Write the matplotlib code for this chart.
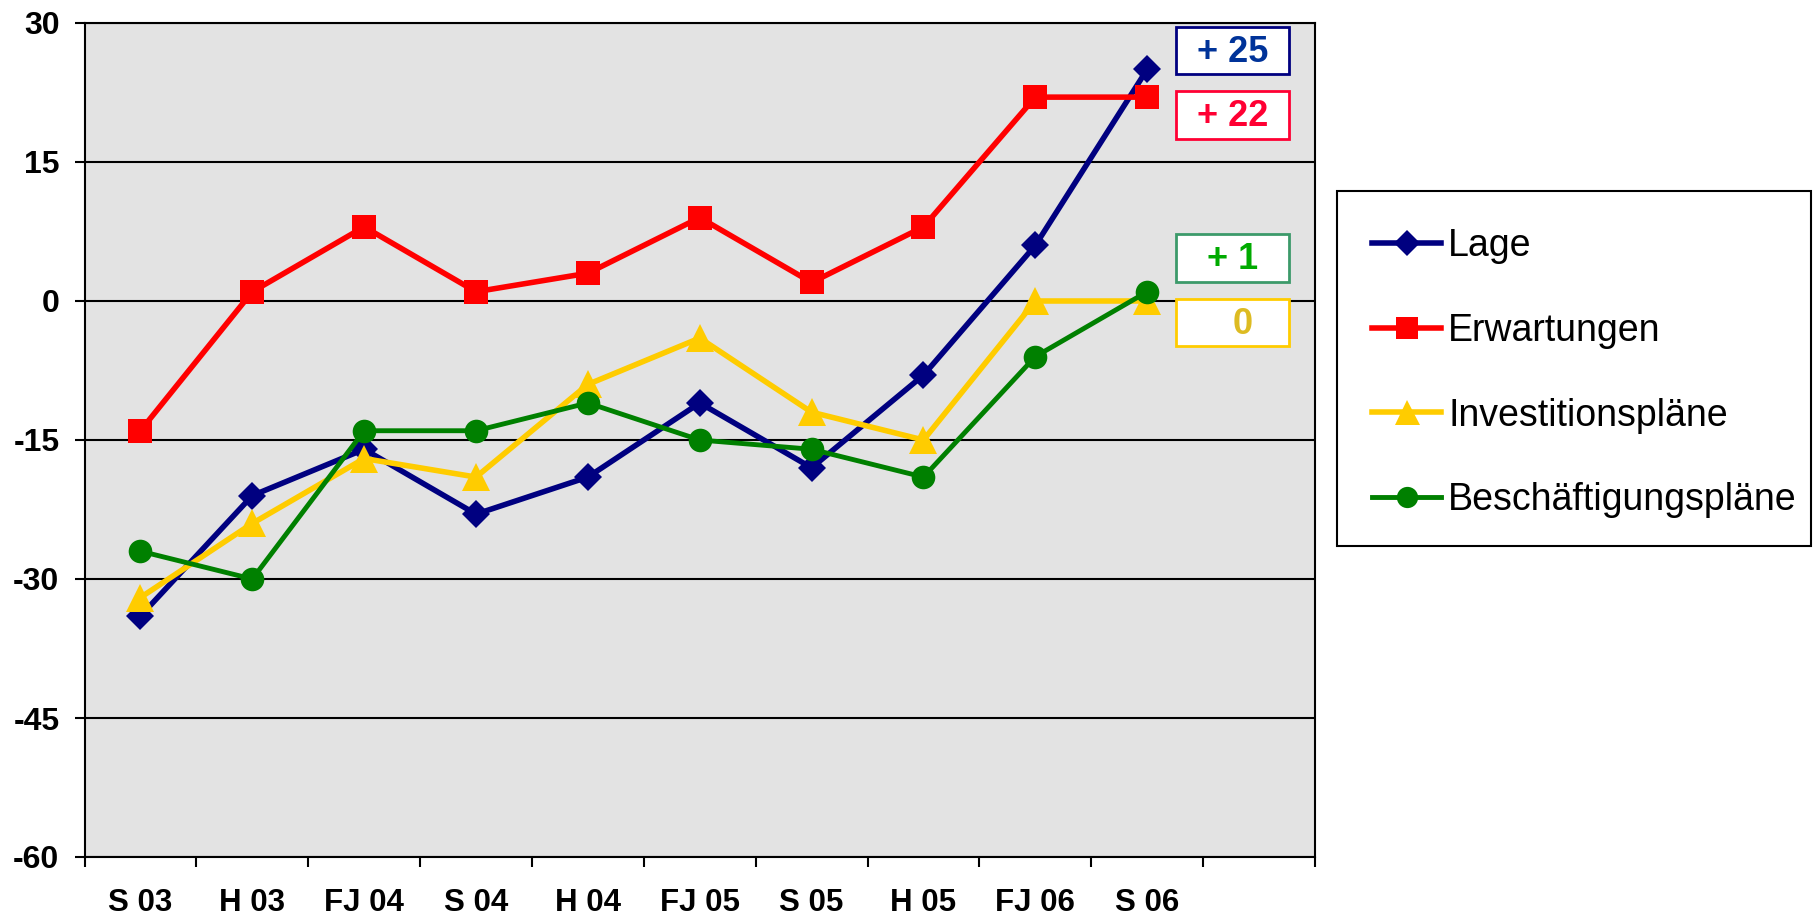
import matplotlib
matplotlib.use("Agg")
import matplotlib.pyplot as plt
from matplotlib.patches import Rectangle

# ---- data ----
categories = ["S 03", "H 03", "FJ 04", "S 04", "H 04", "FJ 05", "S 05", "H 05", "FJ 06", "S 06"]
lage = [-34, -21, -16, -23, -19, -11, -18, -8, 6, 25]
erwartungen = [-14, 1, 8, 1, 3, 9, 2, 8, 22, 22]
investitionsplaene = [-32, -24, -17, -19, -9, -4, -12, -15, 0, 0]
beschaeftigungsplaene = [-27, -30, -14, -14, -11, -15, -16, -19, -6, 1]
series_names = ["Lage", "Erwartungen", "Investitionspläne", "Beschäftigungspläne"]
end_labels = ["+ 25", "+ 22", "+ 1", "0"]
y_ticks = [30, 15, 0, -15, -30, -45, -60]

plt.rcParams['font.family'] = ['Liberation Sans', 'DejaVu Sans']

fig = plt.figure(figsize=(18.14, 9.19), dpi=100)
W, H = 1814, 919
ax_l, ax_r, ax_t, ax_b = 84.5, 1315, 23, 857
ax = fig.add_axes([ax_l / W, 1 - ax_b / H, (ax_r - ax_l) / W, (ax_b - ax_t) / H])
ax.set_facecolor("#E3E3E3")

x = list(range(len(categories)))
styles = [
    (lage, "#000080", "D", 14.5, 4.0),
    (erwartungen, "#FF0000", "s", 17.5, 4.0),
    (investitionsplaene, "#FFCC00", "^", 20, 4.0),
    (beschaeftigungsplaene, "#008000", "o", 17, 3.5),
]
for (vals, col, mk, ms, lw), name in zip(styles, series_names):
    ax.plot(x, vals, color=col, marker=mk, markersize=ms, linewidth=lw,
            markeredgewidth=0, label=name, zorder=3, clip_on=False)

ax.set_xlim(-0.5, len(categories) + 0.5)
ax.set_ylim(-60, 30)
ax.set_yticks(y_ticks)
ax.set_yticklabels([str(v) for v in y_ticks])
ax.yaxis.grid(True, color="black", linewidth=1.5, zorder=1)
ax.set_axisbelow(True)

ax.set_xticks(x)
ax.set_xticklabels(categories)
ax.set_xticks([i - 0.5 for i in range(len(categories) + 2)], minor=True)
ax.tick_params(axis="x", which="major", length=0, pad=22, labelsize=22.5)
ax.tick_params(axis="x", which="minor", length=7, width=1.5, direction="out")
ax.tick_params(axis="y", which="major", length=7, width=1.5, direction="out", pad=11, labelsize=23)
for lab in ax.get_xticklabels() + ax.get_yticklabels():
    lab.set_fontweight("bold")
for sp in ax.spines.values():
    sp.set_linewidth(1.5)
    sp.set_color("black")

# end-value boxes (axes fraction)
box_specs = [
    (0.967, "#000080", "#003399", 0.933),
    (0.890, "#FF0033", "#FF0033", 0.933),
    (0.718, "#3C9A6A", "#00AA00", 0.933),
    (0.641, "#FFCC00", "#DDBB22", 0.941),
]
bw, bh, bx = 0.092, 0.057, 0.887
for (yc, ec, tc, tx), lbl in zip(box_specs, end_labels):
    ax.add_patch(Rectangle((bx, yc - bh / 2), bw, bh, transform=ax.transAxes,
                           facecolor="white", edgecolor=ec, linewidth=2, zorder=5))
    ax.text(tx, yc - 0.002, lbl, transform=ax.transAxes, ha="center", va="center",
            fontsize=26, fontweight="bold", color=tc, zorder=6)

# legend frame drawn manually
fig.patches.append(Rectangle((1337 / W, 1 - 546 / H), (1811 - 1337) / W, (546 - 191) / H,
                             transform=fig.transFigure, facecolor="white",
                             edgecolor="black", linewidth=1.5, zorder=0))
leg = fig.legend(loc="upper left", bbox_to_anchor=(1372 / W, 1 - 228 / H),
                 bbox_transform=fig.transFigure, borderaxespad=0,
                 fontsize=27, frameon=False,
                 handlelength=1.85, handletextpad=0.18, labelspacing=1.3,
                 borderpad=0, markerscale=0.9)

fig.savefig("out.png", dpi=100, facecolor="white")
